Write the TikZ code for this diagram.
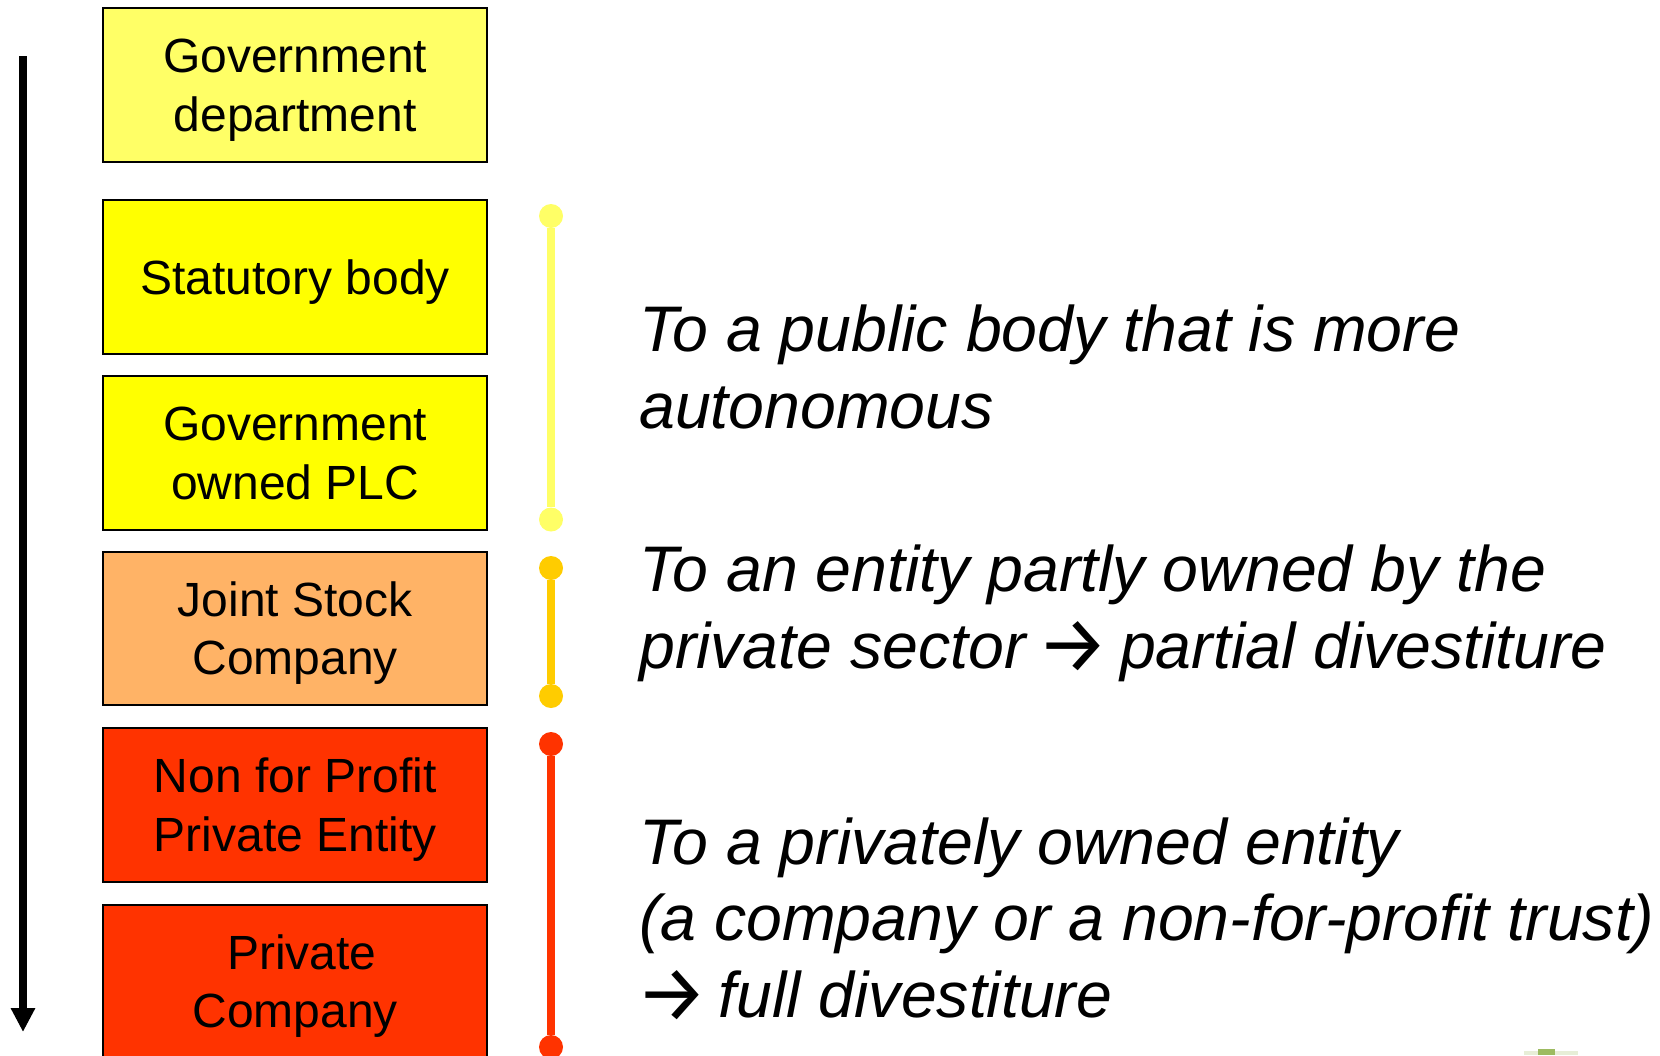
\documentclass[tikz,border=0pt]{standalone}
\usepackage{fontspec}
\setmainfont{Liberation Sans}
\newfontfamily\arrowfont{Fira Sans}
\usetikzlibrary{arrows.meta}
\definecolor{paleyellow}{HTML}{FFFF66}
\definecolor{fullyellow}{HTML}{FFFF00}
\definecolor{softorange}{HTML}{FFB366}
\definecolor{hotred}{HTML}{FF3300}
\definecolor{amberdot}{HTML}{FFCC00}
\definecolor{speck}{HTML}{9DBB61}
\newcommand\firstl{\rule{0pt}{48pt}\hspace*{1.5pt}}
\newcommand\lastl{\rule[-14pt]{0pt}{0pt}\hspace*{1.5pt}}
\newcommand\bigarrow{\makebox[58.5pt][c]{\raisebox{-4pt}{\arrowfont\itshape\fontsize{80}{76.5}\selectfont →}}}
\tikzset{
  x=1pt,y=-1pt,
  stagebox/.style={draw=black,line width=2pt,minimum width=384pt,minimum height=153.5pt,inner sep=0pt,align=center,font=\fontsize{48}{58.5}\selectfont,anchor=center},
  note/.style={anchor=base west,inner sep=0pt,align=left,font=\fontsize{64.4}{76.5}\selectfont\itshape},
  enddot/.style={circle,inner sep=0pt,minimum size=24pt},
  rail/.style={line width=8pt},
}
\begin{document}
\begin{tikzpicture}
\useasboundingbox (0,0) rectangle (1660,1055);
\clip (0,0) rectangle (1660,1055);
\fill[speck!25!white] (1524,1051) rectangle (1578,1055);
\fill[speck] (1538,1049) rectangle (1555,1055);

\node[stagebox,fill=paleyellow] (dept) at (294.5,85) {\firstl Government\\\lastl department};
\node[stagebox,fill=fullyellow] (stat) at (294.5,277) {\firstl\rule[-14pt]{0pt}{0pt}Statutory body};
\node[stagebox,fill=fullyellow] (plc) at (294.5,453) {\firstl Government\\\lastl owned PLC};
\node[stagebox,fill=softorange] (jsc) at (294.5,628.5) {\firstl Joint Stock\\\lastl Company};
\node[stagebox,fill=hotred] (npp) at (294.5,805) {\firstl Non for Profit\\\lastl Private Entity};
\node[stagebox,fill=hotred] (priv) at (294.5,981.5) {\firstl\hspace*{13pt}Private\\\lastl Company};

\coordinate (arrowtop) at (23,56);
\coordinate (arrowend) at (23,1032);
\draw[line width=8pt,-{Triangle[length=24pt,width=23pt]}] (arrowtop) -- (arrowend);

\node[enddot,fill=paleyellow] (y1) at (551,216) {};
\node[enddot,fill=paleyellow] (y2) at (551,519.5) {};
\draw[rail,paleyellow] (y1) -- (y2);
\node[enddot,fill=amberdot] (o1) at (551,568) {};
\node[enddot,fill=amberdot] (o2) at (551,696) {};
\draw[rail,amberdot] (o1) -- (o2);
\node[enddot,fill=hotred] (r1) at (551,744) {};
\node[enddot,fill=hotred] (r2) at (551,1047) {};
\draw[rail,hotred] (r1) -- (r2);

\node[note] (n1) at (639,428) {To a public body that is more\\autonomous};
\node[note] (n2) at (639,668) {To an entity partly owned by the\\private sector \bigarrow{} partial divestiture};
\node[note] (n3) at (639,1017) {To a privately owned entity\\(a company or a non-for-profit trust)\\\hspace*{3pt}\bigarrow{} full divestiture};
\end{tikzpicture}
\end{document}
